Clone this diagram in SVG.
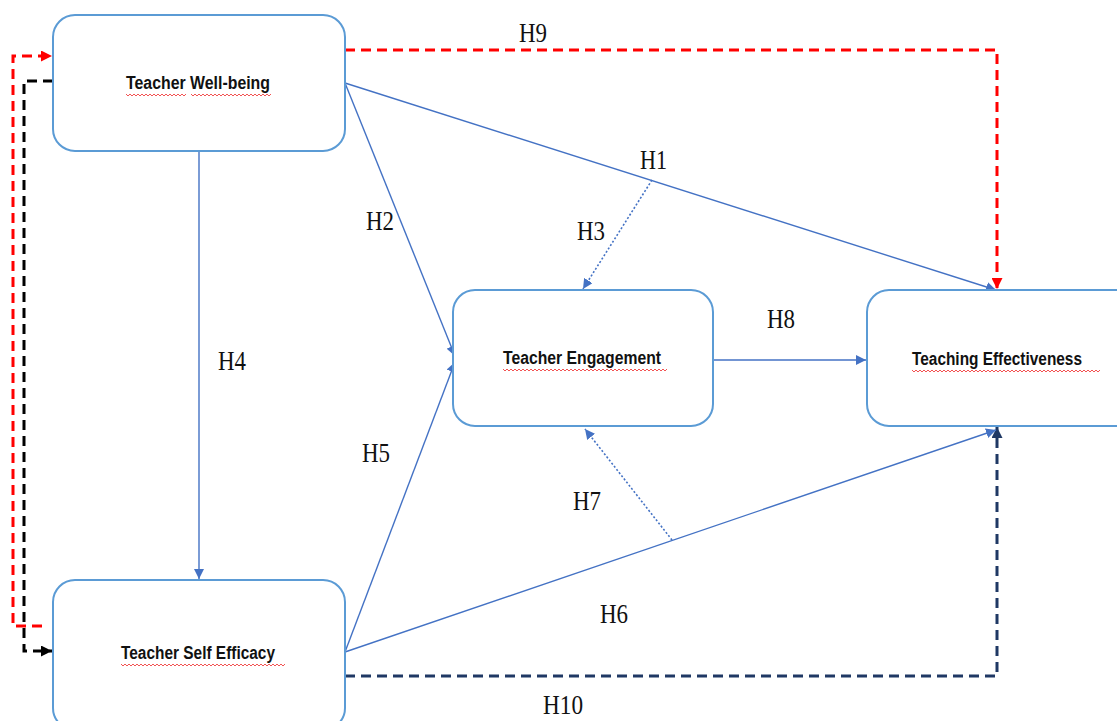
<svg xmlns="http://www.w3.org/2000/svg" width="1117" height="721" viewBox="0 0 1117 721">
<style>
.box{fill:#fff;stroke:#5B9BD5;stroke-width:2}
.nt{font-family:"Liberation Sans",Arial,sans-serif;font-weight:bold;font-size:17.5px;fill:#111;text-anchor:middle}
.lb{font-family:"Liberation Serif","Times New Roman",serif;font-size:28px;fill:#111}
.bl{fill:none;stroke:#4472C4;stroke-width:1.4}
.dot{fill:none;stroke:#4472C4;stroke-width:1.6;stroke-dasharray:2,2}
.sq{fill:none;stroke:#F04040;stroke-width:0.9}
</style>
<defs>
<marker id="ab" viewBox="0 0 10 10" refX="10" refY="5" markerWidth="10" markerHeight="10" markerUnits="userSpaceOnUse" orient="auto"><path d="M0,0 L10,5 L0,10 z" fill="#4472C4"/></marker>
<marker id="ar" viewBox="0 0 10 10" refX="10" refY="5" markerWidth="11" markerHeight="11" markerUnits="userSpaceOnUse" orient="auto"><path d="M0,0 L10,5 L0,10 z" fill="#FF0000"/></marker>
<marker id="ak" viewBox="0 0 10 10" refX="10" refY="5" markerWidth="11" markerHeight="11" markerUnits="userSpaceOnUse" orient="auto"><path d="M0,0 L10,5 L0,10 z" fill="#000"/></marker>
<marker id="an" viewBox="0 0 10 10" refX="10" refY="5" markerWidth="11" markerHeight="11" markerUnits="userSpaceOnUse" orient="auto"><path d="M0,0 L10,5 L0,10 z" fill="#1F3864"/></marker>
</defs>
<rect width="1117" height="721" fill="#fff"/>
<g id="connectors">
<path d="M345,50 H997 V289" fill="none" stroke="#FF0000" stroke-width="3" stroke-dasharray="10,6" marker-end="url(#ar)"/>
<path d="M345,676 H997 V427" fill="none" stroke="#1F3864" stroke-width="3" stroke-dasharray="10,6" marker-end="url(#an)"/>
<path d="M42,626 H13 V56 H52" fill="none" stroke="#FF0000" stroke-width="3" stroke-dasharray="10,6" marker-end="url(#ar)"/>
<path d="M53,81 H24 V651 H52" fill="none" stroke="#000" stroke-width="3" stroke-dasharray="10,6" marker-end="url(#ak)"/>
<line class="bl" x1="345" y1="83" x2="996" y2="290" marker-end="url(#ab)"/>
<line class="bl" x1="345" y1="83" x2="455" y2="356" marker-end="url(#ab)"/>
<line class="bl" x1="199" y1="151" x2="199" y2="579" marker-end="url(#ab)"/>
<line class="bl" x1="345" y1="652" x2="455" y2="362" marker-end="url(#ab)"/>
<line class="bl" x1="345" y1="652" x2="996" y2="430" marker-end="url(#ab)"/>
<line class="bl" x1="713" y1="360" x2="866" y2="360" marker-end="url(#ab)"/>
<line class="dot" x1="652" y1="180" x2="583" y2="289" marker-end="url(#ab)"/>
<line class="dot" x1="672" y1="540" x2="585" y2="429" marker-end="url(#ab)"/>
</g>
<g id="labels">
<text class="lb" x="519" y="42" textLength="28" lengthAdjust="spacingAndGlyphs">H9</text>
<text class="lb" x="640" y="169" textLength="27" lengthAdjust="spacingAndGlyphs">H1</text>
<text class="lb" x="366" y="230" textLength="28" lengthAdjust="spacingAndGlyphs">H2</text>
<text class="lb" x="577" y="240" textLength="28" lengthAdjust="spacingAndGlyphs">H3</text>
<text class="lb" x="218" y="370" textLength="28" lengthAdjust="spacingAndGlyphs">H4</text>
<text class="lb" x="362" y="462" textLength="28" lengthAdjust="spacingAndGlyphs">H5</text>
<text class="lb" x="573" y="510" textLength="28" lengthAdjust="spacingAndGlyphs">H7</text>
<text class="lb" x="767" y="328" textLength="28" lengthAdjust="spacingAndGlyphs">H8</text>
<text class="lb" x="600" y="623" textLength="28" lengthAdjust="spacingAndGlyphs">H6</text>
<text class="lb" x="543" y="714" textLength="40" lengthAdjust="spacingAndGlyphs">H10</text>
</g>
<g id="node-wellbeing">
<rect class="box" x="53" y="15" width="292" height="136" rx="22"/>
<text class="nt" x="198" y="89" textLength="144" lengthAdjust="spacingAndGlyphs">Teacher Well-being</text>
<path class="sq" d="M126,94 l2,2 l2,-2 l2,2 l2,-2 l2,2 l2,-2 l2,2 l2,-2 l2,2 l2,-2 l2,2 l2,-2 l2,2 l2,-2 l2,2 l2,-2 l2,2 l2,-2 l2,2 l2,-2 l2,2 l2,-2 l2,2 l2,-2 l2,2 l2,-2 l2,2 l2,-2 l2,2 l2,-2 M191,94 l2,2 l2,-2 l2,2 l2,-2 l2,2 l2,-2 l2,2 l2,-2 l2,2 l2,-2 l2,2 l2,-2 l2,2 l2,-2 l2,2 l2,-2 l2,2 l2,-2 l2,2 l2,-2 l2,2 l2,-2 l2,2 l2,-2 l2,2 l2,-2 l2,2 l2,-2 l2,2 l2,-2 l2,2 l2,-2 l2,2 l2,-2 l2,2 l2,-2 l2,2 l2,-2 l2,2 l2,-2"/>
</g>
<g id="node-selfefficacy">
<rect class="box" x="53" y="580" width="292" height="150" rx="22"/>
<text class="nt" x="198" y="659" textLength="154" lengthAdjust="spacingAndGlyphs">Teacher Self Efficacy</text>
<path class="sq" d="M121,664 l2,2 l2,-2 l2,2 l2,-2 l2,2 l2,-2 l2,2 l2,-2 l2,2 l2,-2 l2,2 l2,-2 l2,2 l2,-2 l2,2 l2,-2 l2,2 l2,-2 l2,2 l2,-2 l2,2 l2,-2 l2,2 l2,-2 l2,2 l2,-2 l2,2 l2,-2 l2,2 l2,-2 l2,2 l2,-2 l2,2 l2,-2 l2,2 l2,-2 l2,2 l2,-2 l2,2 l2,-2 l2,2 l2,-2 l2,2 l2,-2 l2,2 l2,-2 l2,2 l2,-2 l2,2 l2,-2 l2,2 l2,-2 l2,2 l2,-2 l2,2 l2,-2 l2,2 l2,-2 l2,2 l2,-2 l2,2 l2,-2 l2,2 l2,-2 l2,2 l2,-2 l2,2 l2,-2 l2,2 l2,-2 l2,2 l2,-2 l2,2 l2,-2 l2,2 l2,-2 l2,2 l2,-2 l2,2 l2,-2 l2,2 l2,-2"/>
</g>
<g id="node-engagement">
<rect class="box" x="453" y="290" width="260" height="136" rx="22"/>
<text class="nt" x="582" y="364" textLength="158" lengthAdjust="spacingAndGlyphs">Teacher Engagement</text>
<path class="sq" d="M503,369 l2,2 l2,-2 l2,2 l2,-2 l2,2 l2,-2 l2,2 l2,-2 l2,2 l2,-2 l2,2 l2,-2 l2,2 l2,-2 l2,2 l2,-2 l2,2 l2,-2 l2,2 l2,-2 l2,2 l2,-2 l2,2 l2,-2 l2,2 l2,-2 l2,2 l2,-2 l2,2 l2,-2 l2,2 l2,-2 l2,2 l2,-2 l2,2 l2,-2 l2,2 l2,-2 l2,2 l2,-2 l2,2 l2,-2 l2,2 l2,-2 l2,2 l2,-2 l2,2 l2,-2 l2,2 l2,-2 l2,2 l2,-2 l2,2 l2,-2 l2,2 l2,-2 l2,2 l2,-2 l2,2 l2,-2 l2,2 l2,-2 l2,2 l2,-2 l2,2 l2,-2 l2,2 l2,-2 l2,2 l2,-2 l2,2 l2,-2 l2,2 l2,-2 l2,2 l2,-2 l2,2 l2,-2 l2,2 l2,-2 l2,2 l2,-2"/>
</g>
<g id="node-effectiveness">
<rect class="box" x="867" y="290" width="270" height="136" rx="22"/>
<text class="nt" x="997" y="365" textLength="170" lengthAdjust="spacingAndGlyphs">Teaching Effectiveness</text>
<path class="sq" d="M912,370 l2,2 l2,-2 l2,2 l2,-2 l2,2 l2,-2 l2,2 l2,-2 l2,2 l2,-2 l2,2 l2,-2 l2,2 l2,-2 l2,2 l2,-2 l2,2 l2,-2 l2,2 l2,-2 l2,2 l2,-2 l2,2 l2,-2 l2,2 l2,-2 l2,2 l2,-2 l2,2 l2,-2 l2,2 l2,-2 l2,2 l2,-2 l2,2 l2,-2 l2,2 l2,-2 l2,2 l2,-2 l2,2 l2,-2 l2,2 l2,-2 l2,2 l2,-2 l2,2 l2,-2 l2,2 l2,-2 l2,2 l2,-2 l2,2 l2,-2 l2,2 l2,-2 l2,2 l2,-2 l2,2 l2,-2 l2,2 l2,-2 l2,2 l2,-2 l2,2 l2,-2 l2,2 l2,-2 l2,2 l2,-2 l2,2 l2,-2 l2,2 l2,-2 l2,2 l2,-2 l2,2 l2,-2 l2,2 l2,-2 l2,2 l2,-2 l2,2 l2,-2 l2,2 l2,-2 l2,2 l2,-2 l2,2 l2,-2 l2,2 l2,-2 l2,2 l2,-2"/>
</g>
</svg>
